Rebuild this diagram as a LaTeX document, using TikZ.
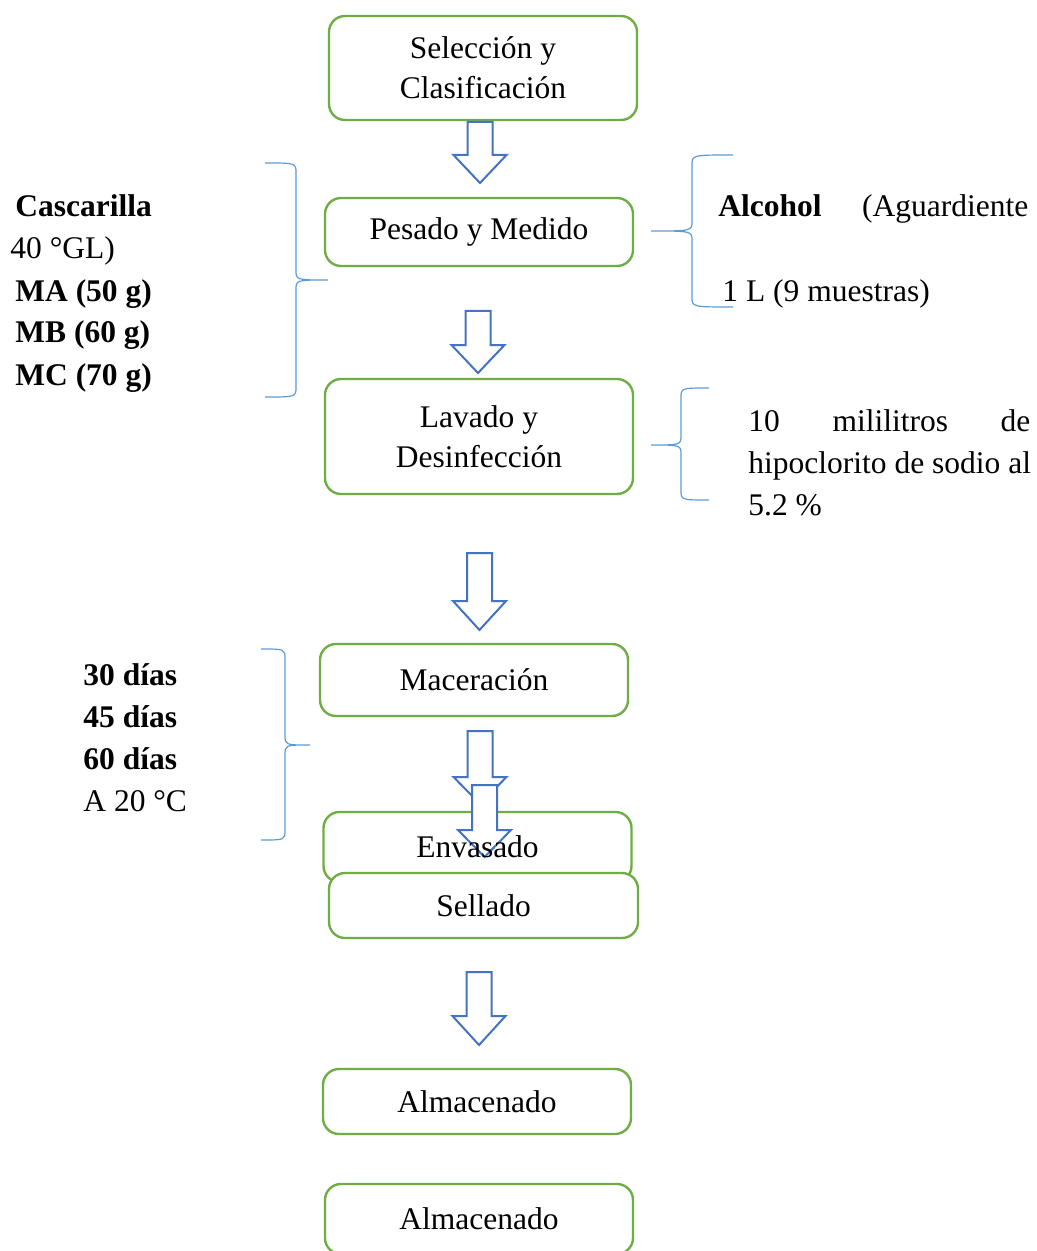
\documentclass[tikz,border=0pt]{standalone}
\usepackage{fontspec}
\setmainfont{Liberation Serif}
\definecolor{boxgreen}{HTML}{70AD47}
\definecolor{arrowblue}{HTML}{4472C4}
\definecolor{braceblue}{HTML}{5B9BD5}

\begin{document}
\begin{tikzpicture}[x=0.5pt,y=-0.5pt]
    \tikzstyle{procbox}=[rectangle,rounded corners=8pt,draw=boxgreen,line width=1.2pt,fill=white,minimum width=154pt,inner sep=0pt,align=center,font=\fontsize{15.75}{20}\selectfont]
    \tikzstyle{sidetext}=[anchor=base west,inner sep=0pt,font=\fontsize{15.75}{21}\selectfont]
    \tikzstyle{blockarrow}=[draw=arrowblue,line width=1pt,fill=white,line join=miter]
    \tikzstyle{brace}=[draw=braceblue,line width=0.6pt]
    \useasboundingbox (0,0) rectangle (1037,1251);

        % process steps
        \node[procbox,minimum height=52pt] (sel) at (483,68) {Selección y\\Clasificación};
        \node[procbox,minimum height=34pt] (pes) at (479,232) {Pesado y Medido};
        \node[procbox,minimum height=57.5pt] (lav) at (479,436.5) {Lavado y\\Desinfección};
        \node[procbox,minimum height=36pt] (mac) at (474,680) {Maceración};
        \node[procbox,minimum height=35pt,fill=none] (env) at (477.5,847) {};
        \node[procbox,minimum height=32.5pt,minimum width=154.5pt] (sell) at (483.5,905.5) {Sellado};
        \node[procbox,minimum height=32.5pt] (alm-1) at (477,1101.5) {Almacenado};
        \node[procbox,minimum height=35pt] (alm-2) at (479,1219) {Almacenado};

        % block arrows
        \foreach \x/\t/\b/\e in {480/122/155/183, 478/311/345/373, 479.5/553/601/630,
                                 480/731/777/804, 484.5/785/830/857, 479/972/1016/1045}
            \filldraw[blockarrow] (\x-12.5,\t) -- (\x+12.5,\t) -- (\x+12.5,\b) -- (\x+26.5,\b)
                -- (\x,\e) -- (\x-26.5,\b) -- (\x-12.5,\b) -- cycle;

        % text of the hidden step lies over the arrows
        \node[inner sep=0pt,font=\fontsize{15.75}{20}\selectfont] (env-text) at (env.center) {Envasado};

        % braces
        \foreach \xo/\xv/\xt/\t/\m/\b in {265/296/328/163/280/397, 733/692/651/155/231/307,
                                          709/681/651/388/445/500, 261/285/310/649/745/840}
            \draw[brace] (\xo,\t) .. controls (\xv,\t) .. (\xv,\t+10) -- (\xv,\m-10)
                .. controls (\xv,\m) .. (\xt,\m) .. controls (\xv,\m) .. (\xv,\m+10)
                -- (\xv,\b-10) .. controls (\xv,\b) .. (\xo,\b);

        % side notes
        \foreach \x/\txt [count=\i] in {15/\textbf{Cascarilla}, 10/40 °GL), 15/\textbf{MA (50 g)},
                                        15/\textbf{MB (60 g)}, 15/\textbf{MC (70 g)}}
            \node[sidetext] (cas-\i) at (\x,175+42*\i) {\txt};

        \foreach \txt [count=\i] in {\textbf{30 días}, \textbf{45 días}, \textbf{60 días}, A 20 °C}
            \node[sidetext] (dia-\i) at (83,643+42*\i) {\txt};

        \node[sidetext] (alc-1) at (718,217) {\makebox[155pt]{\textbf{Alcohol}\hfill(Aguardiente}};
        \node[sidetext] (alc-2) at (722,302) {1 L (9 muestras)};

        \node[sidetext] (hip-1) at (748,431) {\makebox[141pt]{10\hfill mililitros\hfill de}};
        \node[sidetext] (hip-2) at (748,473) {hipoclorito de sodio al};
        \node[sidetext] (hip-3) at (748,515) {5.2 \%};
\end{tikzpicture}
\end{document}
